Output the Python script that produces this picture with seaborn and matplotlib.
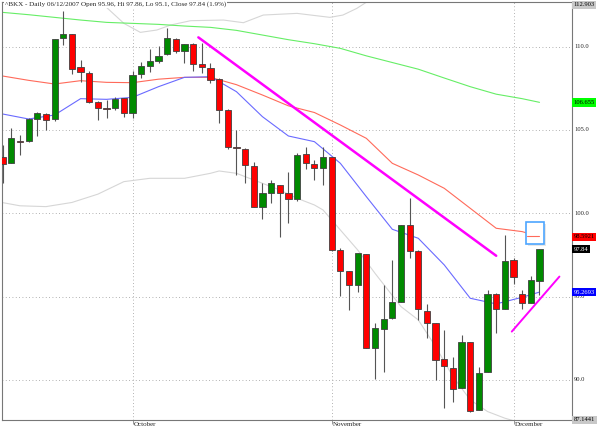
import matplotlib
matplotlib.use('Agg')
import matplotlib.pyplot as plt
import matplotlib.transforms as mtransforms
from matplotlib.patches import Rectangle
import seaborn as sns
import numpy as np
import pandas as pd

# BKX daily candles, 10 Sep 2007 .. 6 Dec 2007 (trading day index 0..62)
opens = [103.36, 103.0, 104.36, 104.32, 105.64, 105.98, 105.64, 110.5, 110.78, 108.78,
         108.44, 106.7, 106.27, 106.3, 106.9, 106.04, 108.36, 108.84, 109.16, 109.54,
         110.48, 109.76, 110.14, 108.96, 108.74, 108.06, 106.2, 104.0, 103.88, 102.84,
         100.4, 101.2, 101.68, 101.2, 100.84, 103.54, 102.94, 102.74, 103.36, 97.8,
         96.54, 95.68, 97.54, 91.94, 93.04, 93.7, 94.7, 99.3, 97.74, 94.16,
         93.4, 91.24, 90.7, 89.5, 92.26, 88.2, 90.46, 95.16, 94.24, 97.2,
         95.14, 94.6, 95.96]
highs = [104.1, 105.1, 104.7, 105.7, 106.08, 106.04, 110.44, 112.14, 110.78, 109.18,
         108.54, 106.74, 106.8, 106.96, 106.94, 108.54, 109.08, 109.84, 110.04, 111.14,
         110.5, 110.18, 110.2, 110.2, 109.04, 108.1, 106.24, 105.0, 103.92, 103.06,
         101.84, 102.0, 101.72, 102.46, 103.6, 104.0, 103.2, 104.0, 103.4, 97.9,
         96.56, 97.64, 97.56, 93.4, 95.7, 97.2, 99.3, 100.9, 97.78, 94.56,
         93.4, 93.0, 91.4, 92.7, 92.26, 90.8, 95.4, 95.2, 98.7, 97.3,
         95.4, 96.24, 97.86]
lows = [101.84, 103.0, 103.5, 104.26, 104.66, 105.0, 105.56, 110.1, 108.36, 107.86,
        106.6, 105.6, 105.7, 106.2, 105.76, 105.74, 108.14, 108.5, 109.0, 109.5,
        109.6, 109.0, 108.56, 108.44, 107.8, 105.44, 103.84, 102.3, 101.84, 100.4,
        99.64, 100.64, 98.6, 99.44, 100.72, 102.64, 102.0, 101.7, 97.76, 95.04,
        94.2, 95.3, 91.9, 90.04, 90.5, 93.66, 94.7, 97.34, 93.6, 92.5,
        90.0, 88.3, 88.7, 89.5, 88.1, 88.2, 90.46, 92.8, 94.24, 95.76,
        94.24, 94.6, 95.1]
closes = [102.96, 104.5, 104.26, 105.64, 106.0, 105.6, 110.44, 110.76, 108.64, 108.46,
          106.7, 106.3, 106.26, 106.88, 106.0, 108.28, 108.84, 109.14, 109.44, 110.5,
          109.76, 110.14, 108.94, 108.76, 108.0, 106.2, 103.96, 103.9, 102.88, 100.4,
          101.2, 101.84, 101.2, 100.84, 103.52, 103.0, 102.74, 103.36, 97.8, 96.56,
          95.68, 97.6, 91.9, 93.14, 93.64, 94.7, 99.3, 97.74, 94.24, 93.44,
          91.2, 90.84, 89.44, 92.26, 88.16, 90.44, 95.16, 94.24, 97.16, 96.2,
          94.6, 96.0, 97.84]

month_pos = [15, 38, 59]
month_labels = ['October', 'November', 'December']

# moving averages
ma_x = [0, 3, 6, 9, 12, 15, 18, 21, 24, 27, 30, 33, 36, 39, 42, 45, 48, 51, 54, 57, 60, 62]
ma50 = [108.24, 107.98, 107.76, 107.96, 107.86, 107.84, 108.05, 108.16, 108.16, 107.72, 107.1,
        106.45, 106.05, 105.3, 104.5, 103.0, 102.3, 101.5, 100.3, 99.1, 98.9, 98.59]
ma20 = [105.96, 105.66, 105.9, 106.88, 106.84, 106.96, 107.6, 108.16, 108.2, 107.3, 105.8,
        104.64, 104.3, 103.0, 101.0, 99.04, 98.5, 96.9, 94.9, 94.56, 94.96, 95.27]
ma200 = [112.06, 111.92, 111.76, 111.6, 111.46, 111.4, 111.34, 111.24, 111.16, 110.98, 110.7,
         110.42, 110.18, 109.9, 109.45, 109.05, 108.65, 108.12, 107.6, 107.15, 106.88, 106.66]

# bands
bb_up_x = [11, 11.7, 14, 15.9, 17.8, 19.4, 21.7, 25.5, 27.8, 30.1, 34, 37.8, 39.3, 40.9, 42.1, 43]
bb_up = [113.0, 112.5, 111.4, 110.86, 111.0, 111.3, 111.56, 111.6, 111.44, 111.9, 112.0,
         111.76, 111.9, 112.3, 112.7, 113.1]
bb_lo_x = [0, 2, 5, 8, 11, 14, 17, 21, 24, 25, 27, 30, 32, 34, 36, 37, 39, 41, 43, 46, 48,
           50, 52, 54, 56, 58, 60]
bb_lo = [100.64, 100.45, 100.4, 100.65, 101.15, 101.9, 102.1, 102.1, 102.4, 102.54, 102.4,
         101.8, 101.4, 100.9, 100.5, 100.2, 99.0, 97.8, 96.4, 94.4, 93.6, 92.0, 90.2, 88.8,
         88.1, 87.7, 87.4]

# hand drawn trend lines
trend1_x = [22.6, 57.0]
trend1_y = [110.56, 97.45]
trend2_x = [58.8, 64.3]
trend2_y = [92.9, 96.2]

grid_levels = [90, 95, 100, 105, 110]
price_hi, price_lo = 112.903, 87.1441
last_ma50, last_ma20, last_ma200, last_close = 98.5921, 95.2693, 106.655, 97.84

sns.set_style('white')
plt.rcParams['font.family'] = ['Liberation Serif', 'DejaVu Serif']

fig = plt.figure(figsize=(6, 4.28), dpi=100)
ax = fig.add_axes([0.003, 0.019, 0.951, 0.977])

df = pd.DataFrame({'o': opens, 'h': highs, 'l': lows, 'c': closes})
df['x'] = np.arange(len(df))
up = df['c'] >= df['o']

# indicator lines
sns.lineplot(x=bb_up_x, y=bb_up, color='#d6d6d6', lw=0.8, ax=ax, zorder=2)
sns.lineplot(x=bb_lo_x, y=bb_lo, color='#d6d6d6', lw=0.8, ax=ax, zorder=2)
sns.lineplot(x=ma_x, y=ma200, color='#66ee66', lw=0.8, ax=ax, zorder=2)
sns.lineplot(x=ma_x, y=ma50, color='#ff6a5a', lw=0.8, ax=ax, zorder=2)
sns.lineplot(x=ma_x, y=ma20, color='#6a6aff', lw=0.8, ax=ax, zorder=2)

# candles
ax.vlines(df['x'], df['l'], df['h'], color='#555555', lw=0.8, zorder=3)
body = (df['c'] - df['o']).abs().clip(lower=0.06)
ax.bar(df['x'], body, bottom=df[['o', 'c']].min(axis=1), width=0.72,
       color=np.where(up, '#008a00', '#ff0000'), edgecolor='#404040', linewidth=0.6, zorder=4)

# trend lines
sns.lineplot(x=trend1_x, y=trend1_y, color='#ff00ff', lw=1.8, ax=ax, zorder=5)
sns.lineplot(x=trend2_x, y=trend2_y, color='#ff00ff', lw=1.4, ax=ax, zorder=5)

# highlight box around last ma50 value
ax.add_patch(Rectangle((60.65, 98.03), 2.07, 1.32, fc='#d8d8d8', ec='none', alpha=0.6, zorder=5))
ax.add_patch(Rectangle((60.45, 98.15), 2.07, 1.32, fc='white', ec='#4da6ff', lw=1.2, zorder=6))
ax.plot([60.5, 62], [last_ma50 + 0.04, last_ma50 + 0.04], color='#ff6a5a', lw=0.8, zorder=7)

ax.set_xlim(-0.1, 65.8)
ax.set_ylim(87.6, 112.7)
ax.set_yticks(grid_levels)
ax.set_xticks(month_pos)
ax.grid(True, ls=(0, (1, 3)), color='#999999', lw=0.6)
ax.tick_params(labelleft=False, labelbottom=False, left=False,
               bottom=True, length=3, color='#888888', width=0.6)
for s in ax.spines.values():
    s.set_color('#777777')
    s.set_linewidth(0.8)

fs = 4.7
ytr = mtransforms.blended_transform_factory(ax.transAxes, ax.transData)
for lvl in grid_levels:
    ax.text(1.003, lvl, f'{lvl:.1f}', transform=ytr, va='center', ha='left',
            fontsize=fs, clip_on=False, zorder=1)

def tag(y, txt, fc, tc='black', trans=ytr, va='center'):
    ax.text(1.002, y, txt, transform=trans, va=va, ha='left', fontsize=fs, color=tc,
            clip_on=False, zorder=10,
            bbox=dict(boxstyle='square,pad=0.25', fc=fc, ec='none'))

tag(0.993, f'{price_hi}', '#c8c8c8', trans=ax.transAxes)
tag(last_ma200, f'{last_ma200}', '#00ff00')
tag(last_ma50, f'{last_ma50}', '#ff0000')
tag(last_close, f'{last_close}', 'black', tc='white')
tag(last_ma20, f'{last_ma20}', '#0000ff', tc='white')
tag(0.0, f'{price_lo}', '#c8c8c8', trans=ax.transAxes)

xtr = mtransforms.blended_transform_factory(ax.transData, ax.transAxes)
for p, lab in zip(month_pos, month_labels):
    ax.text(p + 0.15, -0.004, lab, transform=xtr, va='top', ha='left',
            fontsize=5.0, clip_on=False)

fig.text(0.008, 0.991, '^BKX - Daily 06/12/2007 Open 95.96, Hi 97.86, Lo 95.1, Close 97.84 (1.9%)',
         va='center', ha='left', fontsize=5.15,
         bbox=dict(boxstyle='square,pad=0.15', fc='white', ec='none'), zorder=10)

fig.savefig('out.png', dpi=100)
